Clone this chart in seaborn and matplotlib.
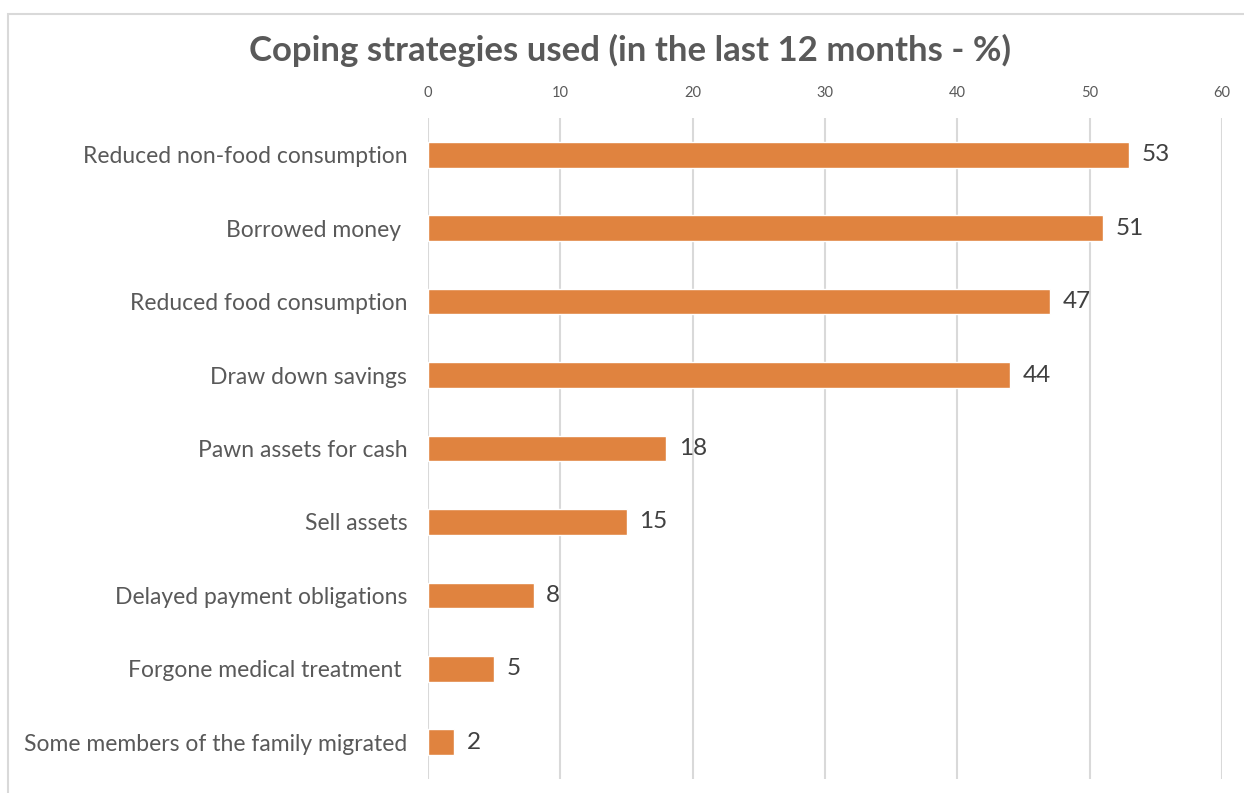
import matplotlib
matplotlib.use("Agg")
import matplotlib.pyplot as plt
import seaborn as sns
import pandas as pd
from matplotlib.patches import Rectangle

categories = [
    "Reduced non-food consumption",
    "Borrowed money ",
    "Reduced food consumption",
    "Draw down savings",
    "Pawn assets for cash",
    "Sell assets",
    "Delayed payment obligations",
    "Forgone medical treatment ",
    "Some members of the family migrated",
]
values = [53, 51, 47, 44, 18, 15, 8, 5, 2]
x_ticks = [0, 10, 20, 30, 40, 50, 60]
title = "Coping strategies used (in the last 12 months - %)"

sns.set_theme(style="white")
plt.rcParams['font.family'] = ['Lato', 'DejaVu Sans']

df = pd.DataFrame({"strategy": categories, "pct": values})

W, H = 1244, 793
fig = plt.figure(figsize=(W / 100, H / 100), dpi=100)
fig.patch.set_facecolor("white")
ax = fig.add_axes([428 / W, 1 - 779 / H, (1222 - 428) / W, (779 - 118) / H])

sns.barplot(data=df, y="strategy", x="pct", orient="h", color="#E0833F",
            saturation=1, width=0.35, ax=ax)

ax.set_xlim(0, 60)
ax.set_ylim(8.5, -0.5)
ax.set_xticks(x_ticks)
ax.xaxis.tick_top()
ax.tick_params(axis="x", length=0, pad=13, labelsize=10.5, labelcolor="#595959")
ax.tick_params(axis="y", length=0, pad=15, labelsize=16.5, labelcolor="#595959")
ax.set_xlabel("")
ax.set_ylabel("")
ax.grid(axis="x", color="#D9D9D9", linewidth=1.5)
ax.set_axisbelow(True)
for s in ax.spines.values():
    s.set_visible(False)

for c in ax.containers:
    texts = ax.bar_label(c, labels=[str(v) for v in values], padding=9,
                         fontsize=17.5, color="#404040")
    for t in texts:
        t.set_y(t.get_position()[1])

fig.text(630 / W, 1 - 50 / H, title, ha="center", va="center",
         fontsize=25, fontweight="bold", color="#595959")

fig.patches.append(Rectangle((8 / W, -0.1), 1.2, 1.1 - 14 / H,
                             transform=fig.transFigure, fill=False,
                             edgecolor="#D9D9D9", linewidth=1.5))

fig.savefig("out.png", dpi=100)
